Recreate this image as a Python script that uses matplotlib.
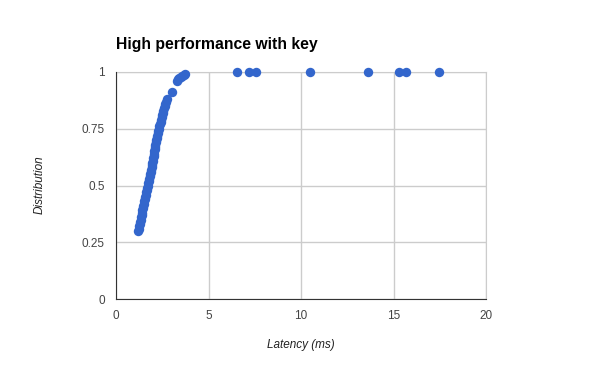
import matplotlib
matplotlib.use("Agg")
import matplotlib.pyplot as plt

# latency (ms) vs cumulative distribution
latency = [1.20, 1.23, 1.25, 1.28, 1.30, 1.33, 1.35, 1.38, 1.40, 1.43,
           1.45, 1.48, 1.50, 1.53, 1.56, 1.58, 1.61, 1.64, 1.67, 1.70,
           1.73, 1.75, 1.78, 1.80, 1.83, 1.85, 1.88, 1.90, 1.93, 1.95,
           1.97, 1.99, 2.01, 2.03, 2.05, 2.07, 2.09, 2.11, 2.13, 2.15,
           2.18, 2.20, 2.22, 2.25, 2.27, 2.31, 2.35, 2.38, 2.41, 2.44,
           2.47, 2.50, 2.53, 2.56, 2.60, 2.63, 2.67, 2.71, 2.75,
           3.00, 3.28, 3.35, 3.42, 3.50, 3.58, 3.66, 3.73,
           6.52, 7.19, 7.57, 10.49, 13.6, 15.3, 15.7, 17.46]
distribution = [0.30, 0.31, 0.32, 0.33, 0.34, 0.35, 0.36, 0.37, 0.38, 0.39,
                0.40, 0.41, 0.42, 0.43, 0.44, 0.45, 0.46, 0.47, 0.48, 0.49,
                0.50, 0.51, 0.52, 0.53, 0.54, 0.55, 0.56, 0.57, 0.58, 0.59,
                0.60, 0.61, 0.62, 0.63, 0.64, 0.65, 0.66, 0.67, 0.68, 0.69,
                0.70, 0.71, 0.72, 0.73, 0.74, 0.75, 0.76, 0.77, 0.78, 0.79,
                0.80, 0.81, 0.82, 0.83, 0.84, 0.85, 0.86, 0.87, 0.88,
                0.912, 0.962, 0.967, 0.972, 0.977, 0.982, 0.987, 0.99,
                1.0, 1.0, 1.0, 1.0, 1.0, 1.0, 1.0, 1.0]

x_ticks = [0, 5, 10, 15, 20]
y_ticks = [0, 0.25, 0.5, 0.75, 1]
y_labels = ["0", "0.25", "0.5", "0.75", "1"]

plt.rcParams["font.family"] = ["Liberation Sans", "DejaVu Sans"]

fig = plt.figure(figsize=(6, 3.71), dpi=100)
ax = fig.add_axes([116 / 600, 72 / 371, 370 / 600, 227 / 371])

ax.scatter(latency, distribution, s=46, color="#3366cc", linewidths=0,
           clip_on=False, zorder=3)

ax.set_xlim(0, 20)
ax.set_ylim(0, 1)
ax.set_xticks(x_ticks)
ax.set_yticks(y_ticks)
ax.set_yticklabels(y_labels)
ax.grid(True, color="#cccccc", linewidth=1)
ax.set_axisbelow(True)
ax.tick_params(length=0, labelsize=8.5, colors="#444444", pad=8)

for side in ["top", "right"]:
    ax.spines[side].set_color("#cccccc")
for side in ["left", "bottom"]:
    ax.spines[side].set_color("#333333")
    ax.spines[side].set_zorder(4)

# axis titles placed like the original
fig.text(301 / 600, 1 - 345 / 371, "Latency (ms)", fontsize=8.5, style="italic",
         color="#222222", ha="center", va="center")
fig.text(40 / 600, 1 - 185 / 371, "Distribution", fontsize=8.5, style="italic",
         color="#222222", ha="center", va="center", rotation=90)

fig.text(116 / 600, 1 - 45 / 371, "High performance with key", fontsize=11.3,
         fontweight="bold", color="#000000", va="center", ha="left")

fig.savefig("out.png", dpi=100, facecolor="white")
